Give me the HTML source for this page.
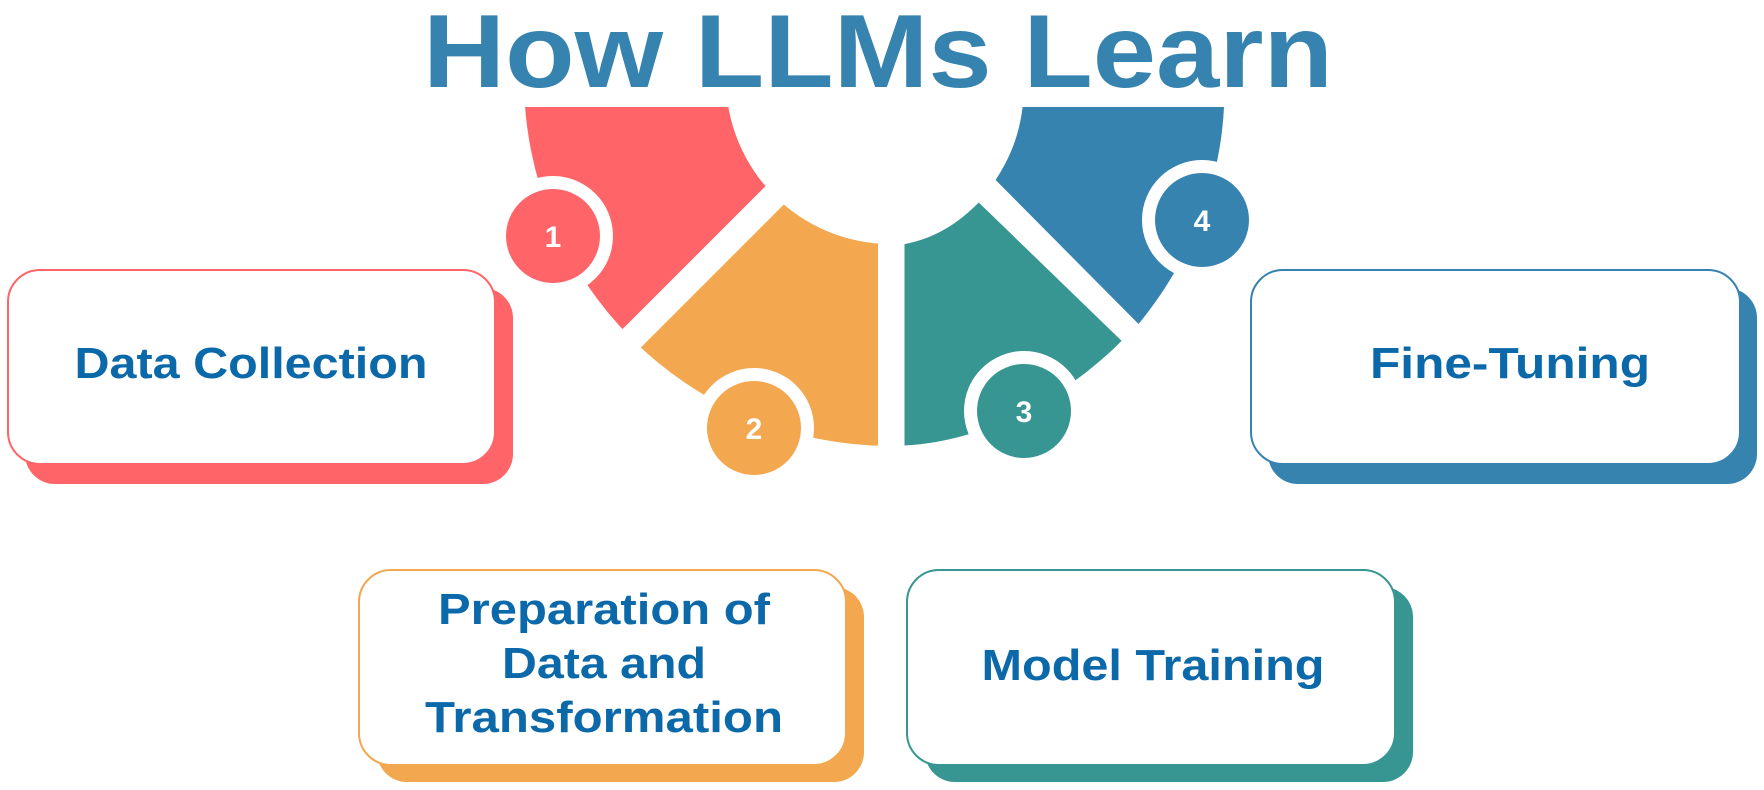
<!DOCTYPE html>
<html><head><meta charset="utf-8"><style>
html,body{margin:0;padding:0;background:#fff;width:1764px;height:790px;overflow:hidden}
svg{display:block}
.t{font-family:"Liberation Sans",sans-serif;font-weight:bold;fill:#0b69aa;text-anchor:middle}
.n{font-family:"Liberation Sans",sans-serif;font-weight:bold;fill:#fff;text-anchor:middle;font-size:30px}
</style></head><body>
<svg width="1764" height="790" viewBox="0 0 1764 790">
<path d="M891,446 A367,367 0 0 1 631.5,338.5 L774.3,195.7 A165,165 0 0 0 891,244 Z" fill="#f3a74f"/>
<path d="M631.5,338.5 A367,367 0 0 1 524,79 L726,79 A165,165 0 0 0 774.3,195.7 Z" fill="#ff6568"/>
<g stroke="#fff" stroke-width="26">
<line x1="891" y1="79" x2="612" y2="358"/>
</g>
<rect x="878" y="100" width="26" height="360" fill="#fff"/>
<g transform="scale(1.125)">
<path d="M804,396 C880,392 950,350 997,303 L870,180 C850,200 830,212 804,217 Z" fill="#389692"/>
<path d="M1012,288 C1060,230 1085,160 1088,95 L909,95 C906,120 898,140 885,160 Z" fill="#3683b0"/>
</g>
<rect x="480" y="0" width="820" height="107" fill="#fff"/>
<text x="878" y="87" font-family="Liberation Sans,sans-serif" font-weight="bold" font-size="104" fill="#3683b0" text-anchor="middle" textLength="910" lengthAdjust="spacingAndGlyphs">How LLMs Learn</text>

<circle cx="553" cy="236" r="60" fill="#fff"/><circle cx="553" cy="236" r="47" fill="#ff6568"/><text class="n" x="553" y="247">1</text>
<circle cx="754" cy="428" r="60" fill="#fff"/><circle cx="754" cy="428" r="47" fill="#f3a74f"/><text class="n" x="754" y="439">2</text>
<circle cx="1024" cy="411" r="60" fill="#fff"/><circle cx="1024" cy="411" r="47" fill="#389692"/><text class="n" x="1024" y="422">3</text>
<circle cx="1202" cy="220" r="60" fill="#fff"/><circle cx="1202" cy="220" r="47" fill="#3683b0"/><text class="n" x="1202" y="231">4</text>

<rect x="25" y="288" width="488" height="196" rx="30" fill="#ff6568"/>
<rect x="8" y="270" width="487" height="194" rx="32" fill="#fff" stroke="#ff6568" stroke-width="2"/>
<text class="t" x="251" y="378" font-size="44" textLength="353" lengthAdjust="spacingAndGlyphs">Data Collection</text>

<rect x="1268" y="288" width="489" height="196" rx="30" fill="#3683b0"/>
<rect x="1251" y="270" width="489" height="194" rx="32" fill="#fff" stroke="#3683b0" stroke-width="2"/>
<text class="t" x="1510" y="378" font-size="44" textLength="280" lengthAdjust="spacingAndGlyphs">Fine-Tuning</text>

<rect x="377" y="587" width="487" height="195" rx="30" fill="#f3a74f"/>
<rect x="359" y="570" width="487" height="195" rx="32" fill="#fff" stroke="#f3a74f" stroke-width="2"/>
<text class="t" x="604" y="624" font-size="44" textLength="332" lengthAdjust="spacingAndGlyphs">Preparation of</text>
<text class="t" x="604" y="678" font-size="44" textLength="204" lengthAdjust="spacingAndGlyphs">Data and</text>
<text class="t" x="604" y="732" font-size="44" textLength="358" lengthAdjust="spacingAndGlyphs">Transformation</text>

<rect x="925" y="587" width="488" height="195" rx="30" fill="#389692"/>
<rect x="907" y="570" width="488" height="195" rx="32" fill="#fff" stroke="#389692" stroke-width="2"/>
<text class="t" x="1153" y="680" font-size="44" textLength="343" lengthAdjust="spacingAndGlyphs">Model Training</text>
</svg>
</body></html>
